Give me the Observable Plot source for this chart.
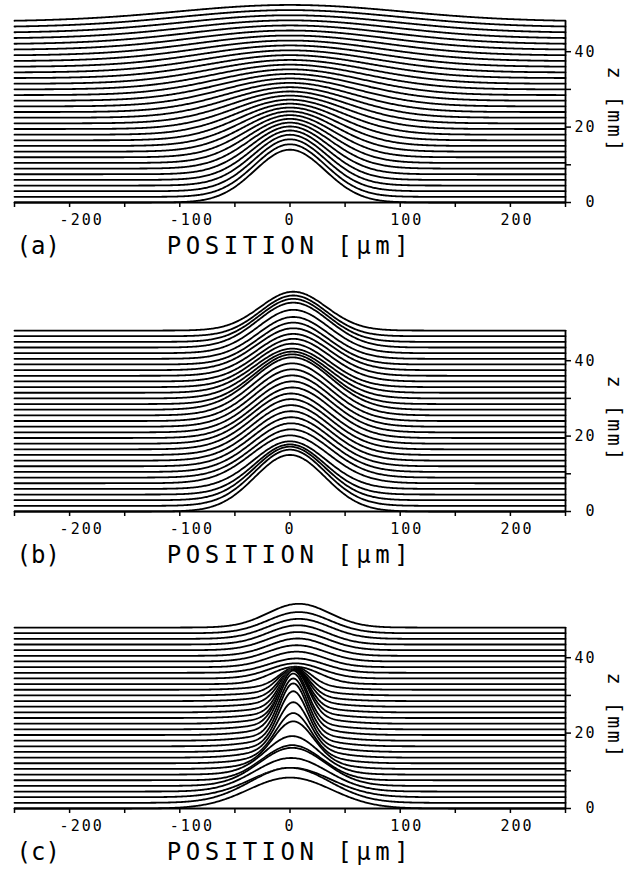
<!DOCTYPE html>
<html>
<head>
<meta charset="utf-8">
<script src="https://cdn.jsdelivr.net/npm/d3@7"></script>
<script src="https://cdn.jsdelivr.net/npm/@observablehq/plot@0.6"></script>
<style>
  html, body { margin: 0; padding: 0; background: #fff; }
  body { width: 631px; height: 869px; overflow: hidden; position: relative; }
  .panel { position: absolute; left: 0; }
</style>
</head>
<body>
<div id="pa" class="panel" style="top:-38px"></div>
<div id="pb" class="panel" style="top:271px"></div>
<div id="pc" class="panel" style="top:568px"></div>
<script>
// ---------- shared axes / labels ----------
const zPositions = [0,1.5,3,4.5,6,7.5,9,10.5,12,13.5,15,16.5,18,19.5,21,22.5,24,25.5,27,28.5,30,31.5,33,34.5,36,37.5,39,40.5,42,43.5,45,46.5,48]; // mm
const xTicks = [-250,-200,-150,-100,-50,0,50,100,150,200,250];
const xTickLabels = [-200,-100,0,100,200];
const zTicks = [0,10,20,30,40];
const zTickLabels = [0,20,40];
const panelLabels = ["(a)","(b)","(c)"];
const xTitle = "POSITION [μm]";
const zTitle = "z [mm]";
const zTitleAt = 24.35; // z value (mm) at which the rotated axis title is centred

// ---------- panel (a): peak height (mm), width sigma (μm), centre (μm) ----------
const peakA   = [14.0,13.94,13.76,13.47,13.10,12.66,12.18,11.68,11.17,10.67,10.18,9.71,9.27,8.85,8.45,8.08,7.73,7.41,7.10,6.82,6.56,6.31,6.08,5.86,5.66,5.46,5.29,5.12,4.96,4.81,4.66,4.53,4.40];
const widthA  = [32,32.1,32.6,33.3,34.2,35.4,36.8,38.3,40.1,42.0,44.0,46.1,48.3,50.6,53.0,55.4,57.9,60.5,63.1,65.7,68.3,71.0,73.7,76.5,79.2,82.0,84.8,87.6,90.4,93.2,96.1,98.9,101.8];
const centerA = [0,0,0,0,0,0,0,0,0,0,0,0,0,0,0,0,0,0,0,0,0,0,0,0,0,0,0,0,0,0,0,0,0];

// ---------- panel (b) ----------
const peakB   = [15.0,14.9,14.2,13.3,12.6,12.7,12.8,12.9,13.0,13.1,13.2,13.3,13.3,13.4,13.5,13.6,13.7,13.8,13.9,13.2,12.4,11.7,11.5,11.3,11.1,11.1,11.1,11.1,11.5,11.9,11.4,10.8,10.3];
const widthB  = [32,32,32,32,33,35,35,35,35,35,35,35,35,35,35,35,35,35,35,34,34,34,33,33,33,33,32,32,32,32,31,30,30];
const centerB = [0,0,0,0,0,0,1,1,1,1,1,1,1,2,2,2,2,2,2,2,2,2,2,3,3,3,3,3,3,3,3,3,3];

// ---------- panel (c): narrow peak + broad pedestal ----------
const peakC     = [8.2,9.3,7.8,8.9,10.1,9.3,8.2,10.1,10.8,12.2,13.8,14.5,14.5,14.3,13.8,12.5,11.4,10.1,8.7,7.4,6.2,4.8,4.6,4.0,3.8,4.1,4.3,4.6,4.8,5.1,5.3,5.6,6.3];
const widthC    = [38,36,36,33,30,27,23,18,15.5,14,13,12.5,12.5,12.5,12.5,12.5,12.5,12.5,13,13,13.5,14,22,24,25,25,26,26,27,27,28,28,28];
const centerC   = [0,0,1,1,2,2,2,3,3,3,3,3,3,3,3,4,4,4,4,4,4,5,5,5,6,6,6,7,7,7,8,8,8];
const pedestalC = [0,0,0,0,0,0,2.0,2.5,2.5,2.5,2.3,2.2,2.0,2.0,1.8,1.8,1.6,1.5,1.4,1.3,1.2,1.2,0,0,0,0,0,0,0,0,0,0,0];
const pedestalWidthC = 32;

// ---------- drawing ----------
const FONT = "DejaVu Sans Mono";
const xs = d3.range(-250, 250.01, 1);
const gauss = (x, c, s) => Math.exp(-((x - c) ** 2) / (2 * s * s));

function panel(label, peak, width, center, ped, pedWidth) {
  const marks = [];
  for (let n = zPositions.length - 1; n >= 0; n--) {
    const z = zPositions[n];
    const pts = xs.map(x => ({
      x,
      base: z,
      y: z + peak[n] * gauss(x, center[n], width[n]) + (ped ? ped[n] * gauss(x, center[n], pedWidth) : 0)
    }));
    marks.push(Plot.areaY(pts, {x: "x", y1: "base", y2: "y", fill: "white"}));
    marks.push(Plot.lineY(pts, {x: "x", y: "y", stroke: "black", strokeWidth: 1.8, strokeLinejoin: "round"}));
  }
  const zTop = zPositions[zPositions.length - 1];
  marks.push(Plot.ruleY([0], {stroke: "black", strokeWidth: 1.8}));
  marks.push(Plot.ruleX([250], {y1: 0, y2: zTop, stroke: "black", strokeWidth: 1.8}));
  marks.push(Plot.axisX({ticks: xTicks, tickSize: 5, tickFormat: () => "", label: null, strokeWidth: 1.5}));
  marks.push(Plot.axisY({anchor: "right", ticks: zTicks, tickSize: 5, tickFormat: () => "", label: null, strokeWidth: 1.5}));
  marks.push(Plot.text(xTickLabels.filter(d => d !== 0), {x: d => d, text: d => String(d), frameAnchor: "bottom", textAnchor: "start", dx: -10, dy: 22, fontSize: 15, fontFamily: FONT}));
  marks.push(Plot.text(xTickLabels.filter(d => d === 0), {x: d => d, text: d => String(d), frameAnchor: "bottom", textAnchor: "middle", dy: 22, fontSize: 15, fontFamily: FONT}));
  marks.push(Plot.text(zTickLabels, {y: d => d, text: d => String(d), frameAnchor: "right", textAnchor: "end", dx: 31, fontSize: 15, fontFamily: FONT}));
  marks.push(Plot.text([xTitle], {text: d => d, frameAnchor: "bottom", dy: 51, fontSize: 24, fontFamily: FONT}));
  marks.push(Plot.text([label], {text: d => d, frameAnchor: "bottom-left", textAnchor: "start", dx: 2, dy: 51, fontSize: 24, fontFamily: FONT}));

  const svg = Plot.plot({
    width: 631,
    height: 310,
    marginLeft: 14,
    marginRight: 66,
    marginTop: 0,
    marginBottom: 70,
    x: {domain: [-250, 250], label: null},
    y: {domain: [0, 240 / 3.77], label: null},
    style: {background: "transparent", fontFamily: FONT, overflow: "visible", color: "black"},
    marks
  });
  d3.select(svg).selectAll("text").each(function() {
    const t = this.textContent;
    if (t === xTitle) d3.select(this).style("letter-spacing", "4.5px");
    else if (panelLabels.includes(t)) d3.select(this).style("letter-spacing", "0px");
    else d3.select(this).style("letter-spacing", "2px");
  });
  // rotated z-axis title, placed with the plot's own scales
  const xr = svg.scale("x").apply(250) + 49;
  const yr = svg.scale("y").apply(zTitleAt);
  d3.select(svg).append("text")
    .attr("transform", `translate(${xr},${yr}) rotate(90)`)
    .attr("text-anchor", "middle")
    .attr("dy", "0.32em")
    .attr("font-family", FONT)
    .attr("font-size", 20)
    .attr("fill", "black")
    .style("letter-spacing", "2.5px")
    .text(zTitle);
  return svg;
}

document.getElementById("pa").appendChild(panel(panelLabels[0], peakA, widthA, centerA));
document.getElementById("pb").appendChild(panel(panelLabels[1], peakB, widthB, centerB));
document.getElementById("pc").appendChild(panel(panelLabels[2], peakC, widthC, centerC, pedestalC, pedestalWidthC));
</script>
</body>
</html>
